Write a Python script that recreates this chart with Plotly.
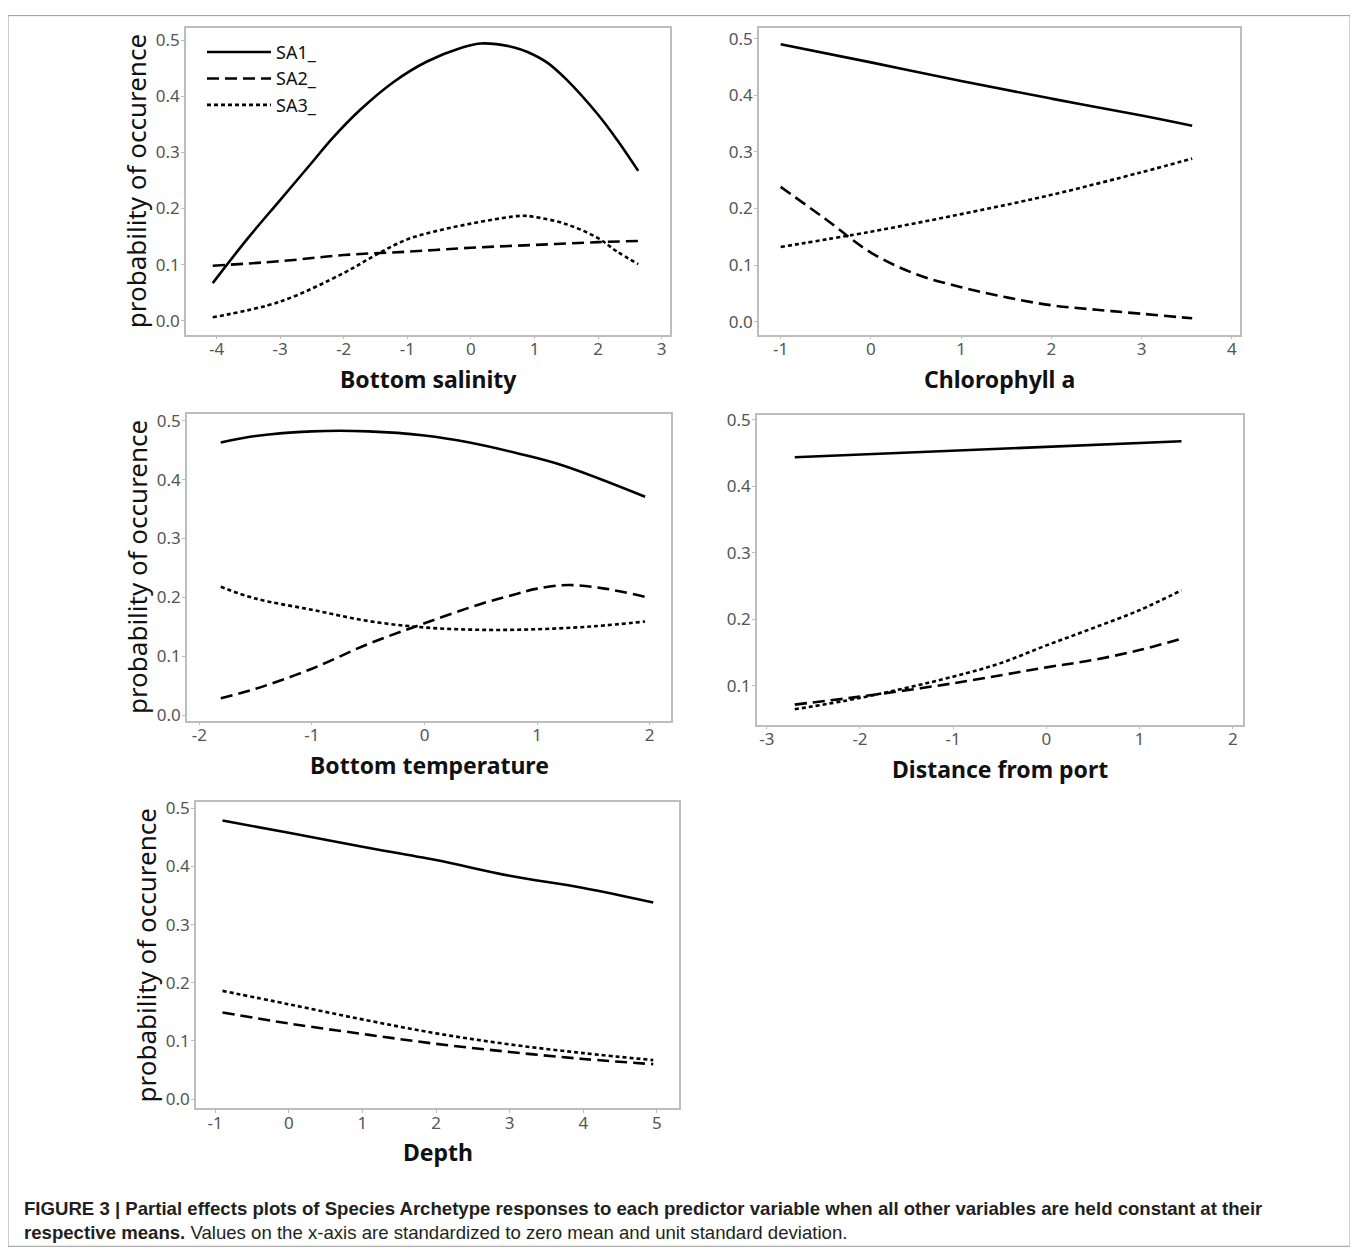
import plotly.graph_objects as go

OFFX = 8                 # page body margin (left)
SY, TY = 0.99, 14.3      # observed vertical mapping of the photographed page
W = 1358 - 2 * OFFX
H = 1246

# ---------------- data ----------------
sal_x1 = [-4.06, -3.5, -3.0, -2.5, -2.18, -1.74, -1.21, -0.69, -0.16, 0.15, 0.4, 0.68, 0.89, 1.2, 1.5, 2.0, 2.3, 2.63]
sal_sa1 = [0.067, 0.148, 0.215, 0.282, 0.325, 0.376, 0.426, 0.462, 0.486, 0.494, 0.493, 0.487, 0.479, 0.460, 0.430, 0.367, 0.322, 0.267]
sal_x2 = [-4.06, -3.0, -2.0, -1.0, 0.0, 1.0, 2.0, 2.63]
sal_sa2 = [0.098, 0.106, 0.117, 0.123, 0.130, 0.135, 0.140, 0.142]
sal_x3 = [-4.06, -3.0, -2.0, -1.5, -1.0, -0.5, 0.0, 0.5, 0.8, 1.0, 1.5, 2.0, 2.3, 2.63]
sal_sa3 = [0.006, 0.034, 0.085, 0.117, 0.145, 0.161, 0.173, 0.183, 0.187, 0.185, 0.172, 0.147, 0.123, 0.101]

chl_x1 = [-1.0, 0.0, 1.0, 2.0, 3.0, 3.56]
chl_sa1 = [0.490, 0.458, 0.425, 0.394, 0.364, 0.346]
chl_x2 = [-1.0, -0.5, 0.0, 0.5, 1.0, 1.5, 2.0, 2.5, 3.0, 3.56]
chl_sa2 = [0.238, 0.181, 0.122, 0.084, 0.061, 0.043, 0.029, 0.021, 0.014, 0.006]
chl_x3 = [-1.0, 0.0, 1.0, 2.0, 3.0, 3.56]
chl_sa3 = [0.132, 0.159, 0.190, 0.224, 0.264, 0.288]

tmp_x1 = [-1.81, -1.5, -1.0, -0.5, 0.0, 0.4, 0.84, 1.23, 1.96]
tmp_sa1 = [0.463, 0.474, 0.482, 0.482, 0.475, 0.463, 0.444, 0.424, 0.371]
tmp_x2 = [-1.81, -1.5, -1.0, -0.5, 0.0, 0.5, 0.8, 1.0, 1.28, 1.6, 1.96]
tmp_sa2 = [0.029, 0.045, 0.079, 0.121, 0.156, 0.189, 0.205, 0.215, 0.221, 0.215, 0.201]
tmp_x3 = [-1.81, -1.5, -1.0, -0.5, 0.0, 0.5, 1.0, 1.5, 1.96]
tmp_sa3 = [0.218, 0.198, 0.179, 0.160, 0.149, 0.145, 0.146, 0.151, 0.159]

dst_x1 = [-2.70, 1.45]
dst_sa1 = [0.444, 0.468]
dst_x2 = [-2.70, -2.0, -1.0, 0.0, 0.5, 1.0, 1.45]
dst_sa2 = [0.072, 0.084, 0.104, 0.128, 0.139, 0.154, 0.171]
dst_x3 = [-2.70, -2.0, -1.0, -0.5, 0.0, 0.5, 1.0, 1.45]
dst_sa3 = [0.065, 0.082, 0.114, 0.134, 0.161, 0.187, 0.214, 0.244]

dep_x = [-0.9, 0.0, 1.0, 2.0, 3.0, 4.0, 4.95]
dep_sa1 = [0.479, 0.458, 0.434, 0.411, 0.384, 0.363, 0.338]
dep_sa2 = [0.149, 0.130, 0.112, 0.095, 0.081, 0.069, 0.060]
dep_sa3 = [0.186, 0.163, 0.137, 0.113, 0.094, 0.079, 0.067]

series_names = ["SA1_", "SA2_", "SA3_"]
x_titles = ["Bottom salinity", "Chlorophyll a", "Bottom temperature", "Distance from port", "Depth"]
y_title = "probability of occurence"
caption_line1 = ("FIGURE 3 | Partial effects plots of Species Archetype responses to each predictor "
                 "variable when all other variables are held constant at their")
caption_line2_bold = "respective means."
caption_line2 = "Values on the x-axis are standardized to zero mean and unit standard deviation."

# ---------------- layout geometry (reference pixels) ----------------
panels = [
    dict(box=(186, 670, 27, 334), xr=(-4.48, 3.13), yr=(-0.025, 0.522), xt=[-4, -3, -2, -1, 0, 1, 2, 3],
         yt=[0, 0.1, 0.2, 0.3, 0.4, 0.5],
         data=[(sal_x1, sal_sa1), (sal_x2, sal_sa2), (sal_x3, sal_sa3)], ytitle=True),
    dict(box=(759, 1240, 27, 334), xr=(-1.24, 4.09), yr=(-0.023, 0.519), xt=[-1, 0, 1, 2, 3, 4],
         yt=[0, 0.1, 0.2, 0.3, 0.4, 0.5],
         data=[(chl_x1, chl_sa1), (chl_x2, chl_sa2), (chl_x3, chl_sa3)], ytitle=False),
    dict(box=(187, 671, 413, 720), xr=(-2.11, 2.19), yr=(-0.009, 0.512), xt=[-2, -1, 0, 1, 2],
         yt=[0, 0.1, 0.2, 0.3, 0.4, 0.5],
         data=[(tmp_x1, tmp_sa1), (tmp_x2, tmp_sa2), (tmp_x3, tmp_sa3)], ytitle=True),
    dict(box=(757, 1243, 414, 724), xr=(-3.105, 2.11), yr=(0.042, 0.508), xt=[-3, -2, -1, 0, 1, 2],
         yt=[0.1, 0.2, 0.3, 0.4, 0.5],
         data=[(dst_x1, dst_sa1), (dst_x2, dst_sa2), (dst_x3, dst_sa3)], ytitle=False),
    dict(box=(196, 679, 802, 1108), xr=(-1.26, 5.3), yr=(-0.016, 0.51), xt=[-1, 0, 1, 2, 3, 4, 5],
         yt=[0, 0.1, 0.2, 0.3, 0.4, 0.5],
         data=[(dep_x, dep_sa1), (dep_x, dep_sa2), (dep_x, dep_sa3)], ytitle=True),
]


def fx(px):
    return (px - OFFX) / W


def fy(py):
    return 1 - (py / SY - TY) / H


dashes = ["solid", "12px,6px", "4px,3px"]
TICKFONT = dict(family="Noto Sans, Open Sans, sans-serif", size=17, color="#555555")
AXCOL = "#bdbdbd"

fig = go.Figure()
annotations = []

for i, p in enumerate(panels):
    n = i + 1
    xa = "x" if n == 1 else f"x{n}"
    ya = "y" if n == 1 else f"y{n}"
    l, r, t, b = p["box"]
    for k, (xs, ys) in enumerate(p["data"]):
        fig.add_trace(go.Scatter(
            x=xs, y=ys, mode="lines", name=series_names[k],
            line=dict(color="black", width=2.6, dash=dashes[k], shape="spline", smoothing=1.0),
            showlegend=(n == 1), legendgroup=series_names[k],
            xaxis=xa, yaxis=ya))
    xkey = "xaxis" if n == 1 else f"xaxis{n}"
    ykey = "yaxis" if n == 1 else f"yaxis{n}"
    fig.update_layout(**{
        xkey: dict(domain=[fx(l), fx(r)], range=list(p["xr"]), anchor=ya,
                   tickvals=p["xt"], ticktext=[str(v) for v in p["xt"]],
                   showgrid=False, zeroline=False, showline=True, mirror=True,
                   linecolor=AXCOL, linewidth=1.5, ticks="outside", ticklen=3,
                   tickcolor=AXCOL, tickfont=TICKFONT, ticklabelstandoff=-5),
        ykey: dict(domain=[fy(b), fy(t)], range=list(p["yr"]), anchor=xa,
                   tickvals=p["yt"], tickformat=".1f",
                   showgrid=False, zeroline=False, showline=True, mirror=True,
                   linecolor=AXCOL, linewidth=1.5, ticks="outside", ticklen=3,
                   tickcolor=AXCOL, tickfont=TICKFONT, ticklabelstandoff=-2),
    })
    annotations.append(dict(
        text=f"<b>{x_titles[i]}</b>", xref="paper", yref="paper",
        x=fx((l + r) / 2), y=fy(b + 44), xanchor="center", yanchor="middle",
        showarrow=False, font=dict(family="Noto Sans, Open Sans, sans-serif", size=23, color="#111111")))
    if p["ytitle"]:
        annotations.append(dict(
            text=y_title, xref="paper", yref="paper",
            x=fx(l - 50), y=fy((t + b) / 2), xanchor="center", yanchor="middle",
            textangle=-90, showarrow=False,
            font=dict(family="Noto Sans, Open Sans, sans-serif", size=26, color="#111111")))

CAPFONT = dict(family="Liberation Sans, Arial, sans-serif", size=18.6, color="#231f20")
annotations.append(dict(
    text=f"<b>{caption_line1}</b>",
    xref="paper", yref="paper", x=fx(22), y=fy(1208), xanchor="left", yanchor="middle",
    showarrow=False, font=CAPFONT))
annotations.append(dict(
    text=f"<b>{caption_line2_bold}</b> {caption_line2}",
    xref="paper", yref="paper", x=fx(22), y=fy(1232), xanchor="left", yanchor="middle",
    showarrow=False, font=CAPFONT))

fig.update_layout(
    width=W, height=H, autosize=False,
    margin=dict(l=0, r=0, t=0, b=0),
    paper_bgcolor="white", plot_bgcolor="white",
    annotations=annotations,
    showlegend=True,
    legend=dict(x=fx(202), y=fy(33), xanchor="left", yanchor="top",
                bgcolor="rgba(0,0,0,0)", itemwidth=64, tracegroupgap=0,
                font=dict(family="Noto Sans, Open Sans, sans-serif", size=18, color="#111111")),
    shapes=[dict(type="rect", xref="paper", yref="paper",
                 x0=fx(8), x1=fx(1350), y0=fy(1246), y1=0.9995,
                 line=dict(color="#9a9a9a", width=1), fillcolor="rgba(0,0,0,0)", layer="below")],
)

fig.write_html("out.html")
